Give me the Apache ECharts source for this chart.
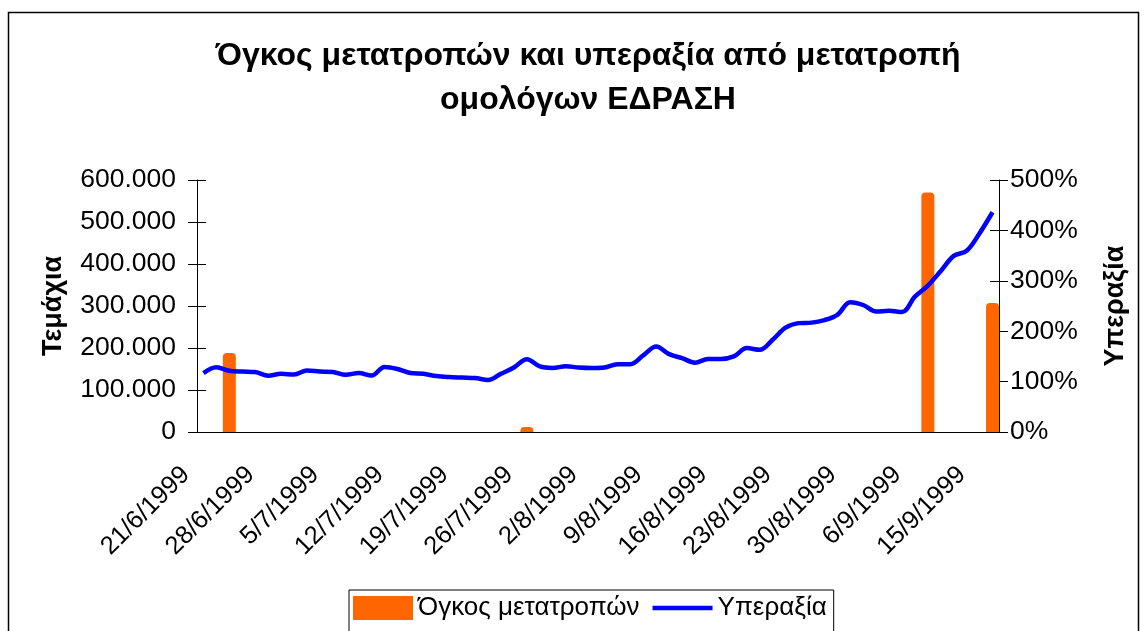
<!DOCTYPE html>
<html><head><meta charset="utf-8">
<script src="https://cdn.jsdelivr.net/npm/echarts@6/dist/echarts.min.js"></script>
<style>html,body{margin:0;padding:0;background:#fff}#c{width:1147px;height:631px}</style>
</head><body><div id="c"></div>
<script>
// Categories: trading days
const dates = [
  '21/6/1999','22/6/1999','23/6/1999','24/6/1999','25/6/1999',
  '28/6/1999','29/6/1999','30/6/1999','1/7/1999','2/7/1999',
  '5/7/1999','6/7/1999','7/7/1999','8/7/1999','9/7/1999',
  '12/7/1999','13/7/1999','14/7/1999','15/7/1999','16/7/1999',
  '19/7/1999','20/7/1999','21/7/1999','22/7/1999','23/7/1999',
  '26/7/1999','27/7/1999','28/7/1999','29/7/1999','30/7/1999',
  '2/8/1999','3/8/1999','4/8/1999','5/8/1999','6/8/1999',
  '9/8/1999','10/8/1999','11/8/1999','12/8/1999','13/8/1999',
  '16/8/1999','17/8/1999','18/8/1999','19/8/1999','20/8/1999',
  '23/8/1999','24/8/1999','25/8/1999','26/8/1999','27/8/1999',
  '30/8/1999','31/8/1999','1/9/1999','2/9/1999','3/9/1999',
  '6/9/1999','7/9/1999','10/9/1999','13/9/1999','14/9/1999',
  '15/9/1999','16/9/1999'
];
// Όγκος μετατροπών (τεμάχια)
const volume = [
  null,null,188000,null,null, null,null,null,null,null,
  null,null,null,null,null, null,null,null,null,null,
  null,null,null,null,null, 12000,null,null,null,null,
  null,null,null,null,null, null,null,null,null,null,
  null,null,null,null,null, null,null,null,null,null,
  null,null,null,null,null, null,570000,null,null,null,
  null,307000
];
// Υπεραξία (%)
const premium = [
  117,128.5,121.5,120,119, 111.5,115.5,114,122,120,
  119,113.5,117,112,129, 125,117,115.5,111,109,
  108,107,103,115.5,128, 144.5,130,127,130.5,128,
  127,128,134.5,134.5,152, 169.5,154.5,146.5,137.5,145,
  145,150,166.5,163,183, 207,216,217,222,232.5,
  257.5,252,239,240.5,238, 268.5,290.5,319.5,349.5,359.5,
  394.5,436
];
const leftAxis = {min: 0, max: 600000, interval: 100000};
const rightAxis = {min: 0, max: 500, interval: 100};
const titleLines = ['Όγκος μετατροπών και υπεραξία από μετατροπή', 'ομολόγων ΕΔΡΑΣΗ'];
const seriesNames = ['Όγκος μετατροπών', 'Υπεραξία'];
const axisNames = ['Τεμάχια', 'Υπεραξία'];

const FONT = '"Liberation Sans", Arial, sans-serif';
const fmtThousands = v => String(v).replace(/\B(?=(\d{3})+(?!\d))/g, '.');

const chart = echarts.init(document.getElementById('c'), null, {renderer: 'canvas'});
const tickStyle = {color: '#000', width: 1};
chart.setOption({
  backgroundColor: '#fff',
  animation: false,
  textStyle: {fontFamily: FONT, color: '#000'},
  title: {
    text: titleLines.join('\n'),
    left: 583, top: 29, textAlign: 'center',
    textStyle: {fontFamily: FONT, fontSize: 32, fontWeight: 'bold', color: '#000', lineHeight: 44}
  },
  graphic: [{
    type: 'rect', z: -10, silent: true,
    shape: {x: 8.5, y: 12.5, width: 1130, height: 700},
    style: {fill: 'none', stroke: '#000', lineWidth: 1.5}
  }],
  legend: {
    left: 349, top: 590,
    padding: [5, 7, 40, 4],
    borderColor: '#000', borderWidth: 1,
    itemWidth: 60, itemHeight: 24, itemGap: 13,
    textStyle: {fontFamily: FONT, fontSize: 26, color: '#000'},
    data: [
      {name: seriesNames[0], icon: 'rect'},
      {name: seriesNames[1], icon: 'path://M0,0H60V4.5H0Z'}
    ]
  },
  grid: {left: 197, right: 148, top: 180, bottom: 199, containLabel: false},
  xAxis: [{
    type: 'category', data: dates, boundaryGap: true,
    axisLine: {lineStyle: tickStyle},
    axisTick: {interval: 3, length: 8, lineStyle: tickStyle},
    axisLabel: {interval: 4, rotate: 45, fontSize: 25.5, color: '#000', fontFamily: FONT, margin: 21, padding: [0, 25, 0, 0]},
    splitLine: {show: false}
  }, {
    type: 'category', data: dates, boundaryGap: true, position: 'bottom',
    axisLine: {show: false},
    axisTick: {interval: 3, length: 8, inside: true, lineStyle: tickStyle},
    axisLabel: {show: false}, splitLine: {show: false}
  }],
  yAxis: [{
    type: 'value', position: 'left', ...leftAxis,
    name: axisNames[0], nameLocation: 'middle', nameRotate: 90, nameGap: 130,
    nameTextStyle: {fontFamily: FONT, fontSize: 27, fontWeight: 'bold', color: '#000'},
    axisLine: {show: true, lineStyle: tickStyle},
    axisTick: {show: true, length: 9, lineStyle: tickStyle},
    axisLabel: {formatter: fmtThousands, fontSize: 26.5, color: '#000', fontFamily: FONT, margin: 21},
    splitLine: {show: false}
  }, {
    type: 'value', position: 'right', ...rightAxis,
    name: axisNames[1], nameLocation: 'middle', nameRotate: 90, nameGap: 103,
    nameTextStyle: {fontFamily: FONT, fontSize: 27, fontWeight: 'bold', color: '#000'},
    axisLine: {show: true, lineStyle: tickStyle},
    axisTick: {show: true, length: 9, lineStyle: tickStyle},
    axisLabel: {formatter: '{value}%', fontSize: 26.5, color: '#000', fontFamily: FONT, margin: 11},
    splitLine: {show: false}
  }, {
    type: 'value', position: 'left', ...leftAxis,
    axisLine: {show: false}, axisTick: {show: true, inside: true, length: 9, lineStyle: tickStyle},
    axisLabel: {show: false}, splitLine: {show: false}
  }, {
    type: 'value', position: 'right', ...rightAxis,
    axisLine: {show: false}, axisTick: {show: true, inside: true, length: 9, lineStyle: tickStyle},
    axisLabel: {show: false}, splitLine: {show: false}
  }],
  series: [{
    name: seriesNames[0], type: 'bar', xAxisIndex: 0, yAxisIndex: 0,
    data: volume, barWidth: 13, barGap: '0%',
    itemStyle: {color: '#FF6600', borderRadius: [4, 4, 0, 0]}
  }, {
    name: seriesNames[1], type: 'line', xAxisIndex: 0, yAxisIndex: 1,
    data: premium, smooth: 0.35, symbol: 'none', showSymbol: false,
    lineStyle: {color: '#0000FF', width: 4.5}, itemStyle: {color: '#0000FF'}, z: 3
  }]
});
</script></body></html>
